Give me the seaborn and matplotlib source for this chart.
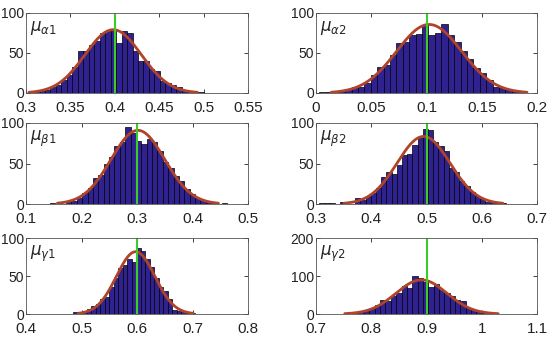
import numpy as np
import pandas as pd
import matplotlib
matplotlib.use("Agg")
import matplotlib.pyplot as plt
import seaborn as sns

sns.set_style("ticks")
plt.rcParams['font.family'] = ['Liberation Sans', 'DejaVu Sans']
plt.rcParams['mathtext.fontset'] = 'dejavusans'

# ---------------- data ----------------
labels = [r'$\mu_{\alpha 1}$', r'$\mu_{\alpha 2}$', r'$\mu_{\beta 1}$',
          r'$\mu_{\beta 2}$', r'$\mu_{\gamma 1}$', r'$\mu_{\gamma 2}$']
true_values = [0.4, 0.1, 0.3, 0.5, 0.6, 0.9]

# histogram range (first/last bin centre) and counts per bin
a1_range = (0.306, 0.497)
a1_counts = [2, 2, 3, 4, 8, 10, 16, 22, 33, 52, 52, 60, 65, 75, 78, 80,
             63, 78, 75, 52, 40, 40, 30, 28, 15, 12, 10, 7, 3, 2, 1, 1]

a2_range = (0.006, 0.186)
a2_counts = [1, 1, 1, 3, 5, 8, 8, 12, 22, 33, 35, 47, 63, 64, 72, 74,
             85, 73, 75, 86, 73, 64, 52, 42, 31, 25, 16, 8, 6, 4, 2, 1]

b1_range = (0.148, 0.458)
b1_counts = [1, 0, 0, 2, 4, 8, 14, 20, 32, 36, 50, 58, 72, 76, 95, 88,
             78, 74, 80, 76, 66, 52, 45, 35, 28, 18, 12, 8, 5, 3, 1, 0, 1]

b2_range = (0.310, 0.639)
b2_counts = [1, 1, 1, 0, 2, 0, 0, 7, 5, 10, 14, 20, 33, 40, 37, 48, 60, 62,
             73, 82, 92, 91, 76, 72, 65, 45, 40, 28, 22, 15, 10, 6, 3, 2, 1, 1]

g1_range = (0.489, 0.700)
g1_counts = [2, 1, 3, 6, 10, 13, 20, 22, 35, 47, 60, 65, 73, 68, 87, 83,
             72, 62, 48, 35, 30, 20, 5, 4, 2, 1, 1]

g2_range = (0.724, 1.034)
g2_counts = [1, 1, 0, 1, 2, 3, 5, 8, 12, 25, 37, 33, 48, 55, 75, 68, 100,
             95, 85, 70, 78, 62, 55, 48, 38, 35, 15, 10, 5, 2, 1, 1, 1]

xlims = [(0.3, 0.55), (0.0, 0.2), (0.1, 0.5), (0.3, 0.7), (0.4, 0.8), (0.7, 1.1)]
xticks = [[0.3, 0.35, 0.4, 0.45, 0.5, 0.55], [0, 0.05, 0.1, 0.15, 0.2],
          [0.1, 0.2, 0.3, 0.4, 0.5], [0.3, 0.4, 0.5, 0.6, 0.7],
          [0.4, 0.5, 0.6, 0.7, 0.8], [0.7, 0.8, 0.9, 1, 1.1]]
xticklabels = [['0.3', '0.35', '0.4', '0.45', '0.5', '0.55'],
               ['0', '0.05', '0.1', '0.15', '0.2'],
               ['0.1', '0.2', '0.3', '0.4', '0.5'],
               ['0.3', '0.4', '0.5', '0.6', '0.7'],
               ['0.4', '0.5', '0.6', '0.7', '0.8'],
               ['0.7', '0.8', '0.9', '1', '1.1']]
ylims = [100, 100, 100, 100, 100, 200]
yticks = [[0, 50, 100]] * 5 + [[0, 100, 200]]

ranges = [a1_range, a2_range, b1_range, b2_range, g1_range, g2_range]
counts = [a1_counts, a2_counts, b1_counts, b2_counts, g1_counts, g2_counts]

# ---------------- layout ----------------
W, H = 550, 346
fig = plt.figure(figsize=(W / 100, H / 100), dpi=100)
cols = [(26, 222), (316, 221)]
rows = [(13, 93), (123, 204), (238, 314)]

bar_color = '#2f2290'
curve_color = '#b0442a'
green = '#3ccc2a'

for i in range(6):
    r, c = divmod(i, 2)
    x0, w = cols[c]
    top, bot = rows[r]
    ax = fig.add_axes([x0 / W, 1 - bot / H, w / W, (bot - top) / H])

    lo, hi = ranges[i]
    cnt = np.array(counts[i], dtype=float)
    n = len(cnt)
    centers = np.linspace(lo, hi, n)
    bw = centers[1] - centers[0]
    df = pd.DataFrame({'x': centers, 'w': cnt})
    sns.histplot(data=df, x='x', weights='w', binwidth=bw,
                 binrange=(lo - bw / 2, hi + bw / 2), ax=ax,
                 color=bar_color, alpha=1.0, edgecolor='black', linewidth=0.5)

    # normal fit of the histogram (as histfit)
    N = cnt.sum()
    mu = (centers * cnt).sum() / N
    sd = np.sqrt(((centers - mu) ** 2 * cnt).sum() / N)
    xs = np.linspace(mu - 3 * sd, mu + 3 * sd, 200)
    ys = N * bw / (sd * np.sqrt(2 * np.pi)) * np.exp(-0.5 * ((xs - mu) / sd) ** 2)
    sns.lineplot(x=xs, y=ys, ax=ax, color=curve_color, linewidth=2)

    ax.axvline(true_values[i], color=green, linewidth=1.5)

    ax.set_xlim(*xlims[i])
    ax.set_ylim(0, ylims[i])
    ax.set_xticks(xticks[i])
    ax.set_xticklabels(xticklabels[i])
    ax.set_yticks(yticks[i])
    ax.set_xlabel('')
    ax.set_ylabel('')
    ax.tick_params(direction='in', length=3, top=True, right=True,
                   width=0.6, colors='#222222')
    ax.tick_params(axis='x', labelsize=11, pad=6)
    ax.tick_params(axis='y', labelsize=10, pad=1.5)
    for s in ax.spines.values():
        s.set_visible(True)
        s.set_linewidth(0.6)
        s.set_color('#555555')
    ax.text(0.02, 0.93, labels[i], transform=ax.transAxes, fontsize=12,
            ha='left', va='top')

fig.savefig('out.png', dpi=100)
